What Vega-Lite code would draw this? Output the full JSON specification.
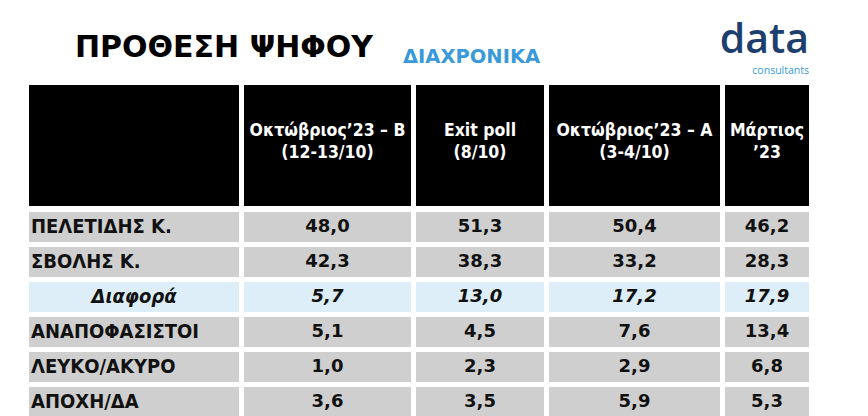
{
  "$schema": "https://vega.github.io/schema/vega-lite/v6.json",
  "background": "#ffffff",
  "padding": {"left": 29, "top": 19, "right": 0, "bottom": 0},
  "config": {
    "locale": {"number": {"decimal": ",", "thousands": ".", "grouping": [3], "currency": ["", " €"]}},
    "view": {"stroke": null},
    "concat": {"spacing": 5},
    "text": {"font": "DejaVu Sans Condensed", "fontWeight": "bold", "color": "#111111"}
  },
  "datasets": {
    "header": [
      {"poll": "label", "label": ""},
      {"poll": "B", "label": "Οκτώβριος’23 – Β\n(12-13/10)"},
      {"poll": "EXIT", "label": "Exit poll\n(8/10)"},
      {"poll": "A", "label": "Οκτώβριος’23 – Α\n(3-4/10)"},
      {"poll": "MAR", "label": "Μάρτιος\n’23"}
    ],
    "cells": [
      {"row": "ΠΕΛΕΤΙΔΗΣ Κ.", "poll": "B", "value": 48.0},
      {"row": "ΠΕΛΕΤΙΔΗΣ Κ.", "poll": "EXIT", "value": 51.3},
      {"row": "ΠΕΛΕΤΙΔΗΣ Κ.", "poll": "A", "value": 50.4},
      {"row": "ΠΕΛΕΤΙΔΗΣ Κ.", "poll": "MAR", "value": 46.2},
      {"row": "ΣΒΟΛΗΣ Κ.", "poll": "B", "value": 42.3},
      {"row": "ΣΒΟΛΗΣ Κ.", "poll": "EXIT", "value": 38.3},
      {"row": "ΣΒΟΛΗΣ Κ.", "poll": "A", "value": 33.2},
      {"row": "ΣΒΟΛΗΣ Κ.", "poll": "MAR", "value": 28.3},
      {"row": "Διαφορά", "poll": "B", "value": 5.7},
      {"row": "Διαφορά", "poll": "EXIT", "value": 13.0},
      {"row": "Διαφορά", "poll": "A", "value": 17.2},
      {"row": "Διαφορά", "poll": "MAR", "value": 17.9},
      {"row": "ΑΝΑΠΟΦΑΣΙΣΤΟΙ", "poll": "B", "value": 5.1},
      {"row": "ΑΝΑΠΟΦΑΣΙΣΤΟΙ", "poll": "EXIT", "value": 4.5},
      {"row": "ΑΝΑΠΟΦΑΣΙΣΤΟΙ", "poll": "A", "value": 7.6},
      {"row": "ΑΝΑΠΟΦΑΣΙΣΤΟΙ", "poll": "MAR", "value": 13.4},
      {"row": "ΛΕΥΚΟ/ΑΚΥΡΟ", "poll": "B", "value": 1.0},
      {"row": "ΛΕΥΚΟ/ΑΚΥΡΟ", "poll": "EXIT", "value": 2.3},
      {"row": "ΛΕΥΚΟ/ΑΚΥΡΟ", "poll": "A", "value": 2.9},
      {"row": "ΛΕΥΚΟ/ΑΚΥΡΟ", "poll": "MAR", "value": 6.8},
      {"row": "ΑΠΟΧΗ/ΔΑ", "poll": "B", "value": 3.6},
      {"row": "ΑΠΟΧΗ/ΔΑ", "poll": "EXIT", "value": 3.5},
      {"row": "ΑΠΟΧΗ/ΔΑ", "poll": "A", "value": 5.9},
      {"row": "ΑΠΟΧΗ/ΔΑ", "poll": "MAR", "value": 5.3}
    ]
  },
  "spacing": 6,
  "vconcat": [
    {
      "bounds": "flush",
      "hconcat": [
        {
          "width": 210, "height": 121,
          "view": {"fill": "#000000", "stroke": null},
          "title": {"text": "ΠΡΟΘΕΣΗ ΨΗΦΟΥ", "anchor": "start", "dx": 46, "offset": 22, "font": "DejaVu Sans", "fontWeight": "bold", "fontSize": 30, "color": "#000000"},
          "data": {"name": "header"},
          "transform": [{"filter": "datum.poll === 'label'"}],
          "mark": {"type": "text", "color": "#ffffff", "fontSize": 17.5, "lineBreak": "\n", "lineHeight": 22},
          "encoding": {"text": {"field": "label", "type": "nominal"}}
        },
        {
          "width": 167, "height": 121,
          "view": {"fill": "#000000", "stroke": null},
          "data": {"name": "header"},
          "transform": [{"filter": "datum.poll === 'B'"}],
          "mark": {"type": "text", "color": "#ffffff", "fontSize": 17.5, "lineBreak": "\n", "lineHeight": 22, "dy": -15},
          "encoding": {"text": {"field": "label", "type": "nominal"}}
        },
        {
          "width": 128, "height": 121,
          "view": {"fill": "#000000", "stroke": null},
          "title": {"text": "ΔΙΑΧΡΟΝΙΚΑ", "anchor": "start", "dx": -13, "offset": 18, "font": "DejaVu Sans", "fontWeight": "bold", "fontSize": 19.5, "color": "#3a9ad9"},
          "data": {"name": "header"},
          "transform": [{"filter": "datum.poll === 'EXIT'"}],
          "mark": {"type": "text", "color": "#ffffff", "fontSize": 17.5, "lineBreak": "\n", "lineHeight": 22, "dy": -15},
          "encoding": {"text": {"field": "label", "type": "nominal"}}
        },
        {
          "width": 171, "height": 121,
          "view": {"fill": "#000000", "stroke": null},
          "data": {"name": "header"},
          "transform": [{"filter": "datum.poll === 'A'"}],
          "mark": {"type": "text", "color": "#ffffff", "fontSize": 17.5, "lineBreak": "\n", "lineHeight": 22, "dy": -15},
          "encoding": {"text": {"field": "label", "type": "nominal"}}
        },
        {
          "width": 84, "height": 121,
          "view": {"fill": "#000000", "stroke": null},
          "title": {"text": "data", "subtitle": "consultants", "anchor": "end", "offset": 8, "font": "Open Sans", "fontWeight": 600, "fontSize": 41, "color": "#1d3f6e", "subtitleFont": "Open Sans", "subtitleFontSize": 10.5, "subtitleColor": "#3a9ad9", "subtitlePadding": 4},
          "data": {"name": "header"},
          "transform": [{"filter": "datum.poll === 'MAR'"}],
          "mark": {"type": "text", "color": "#ffffff", "fontSize": 17.5, "lineBreak": "\n", "lineHeight": 22, "dy": -15},
          "encoding": {"text": {"field": "label", "type": "nominal"}}
        }
      ]
    },
    {
      "hconcat": [
        {
          "width": 210, "height": 205,
          "data": {"name": "cells"},
          "transform": [{"filter": "datum.poll === 'B'"}],
          "encoding": {
            "y": {"field": "row", "type": "nominal", "axis": null, "scale": {"domain": ["ΠΕΛΕΤΙΔΗΣ Κ.", "ΣΒΟΛΗΣ Κ.", "Διαφορά", "ΑΝΑΠΟΦΑΣΙΣΤΟΙ", "ΛΕΥΚΟ/ΑΚΥΡΟ", "ΑΠΟΧΗ/ΔΑ"], "paddingInner": 0.143, "paddingOuter": 0}}
          },
          "layer": [
            {"mark": "rect", "encoding": {"color": {"condition": {"test": "datum.row === 'Διαφορά'", "value": "#ddeef8"}, "value": "#cfcfcf"}}},
            {
              "transform": [{"filter": "datum.row !== 'Διαφορά'"}],
              "mark": {"type": "text", "align": "left", "dx": 2, "fontSize": 20},
              "encoding": {"x": {"value": 0}, "text": {"field": "row", "type": "nominal"}}
            },
            {
              "transform": [{"filter": "datum.row === 'Διαφορά'"}],
              "mark": {"type": "text", "fontStyle": "italic", "fontSize": 20},
              "encoding": {"text": {"field": "row", "type": "nominal"}}
            }
          ]
        },
        {
          "width": 167, "height": 205,
          "data": {"name": "cells"},
          "transform": [{"filter": "datum.poll === 'B'"}],
          "encoding": {
            "y": {"field": "row", "type": "nominal", "axis": null, "scale": {"domain": ["ΠΕΛΕΤΙΔΗΣ Κ.", "ΣΒΟΛΗΣ Κ.", "Διαφορά", "ΑΝΑΠΟΦΑΣΙΣΤΟΙ", "ΛΕΥΚΟ/ΑΚΥΡΟ", "ΑΠΟΧΗ/ΔΑ"], "paddingInner": 0.143, "paddingOuter": 0}}
          },
          "layer": [
            {"mark": "rect", "encoding": {"color": {"condition": {"test": "datum.row === 'Διαφορά'", "value": "#ddeef8"}, "value": "#cfcfcf"}}},
            {
              "transform": [{"filter": "datum.row !== 'Διαφορά'"}],
              "mark": {"type": "text", "font": "DejaVu Sans", "fontSize": 18},
              "encoding": {"text": {"field": "value", "type": "quantitative", "format": ".1f"}}
            },
            {
              "transform": [{"filter": "datum.row === 'Διαφορά'"}],
              "mark": {"type": "text", "font": "DejaVu Sans", "fontStyle": "italic", "fontSize": 18},
              "encoding": {"text": {"field": "value", "type": "quantitative", "format": ".1f"}}
            }
          ]
        },
        {
          "width": 128, "height": 205,
          "data": {"name": "cells"},
          "transform": [{"filter": "datum.poll === 'EXIT'"}],
          "encoding": {
            "y": {"field": "row", "type": "nominal", "axis": null, "scale": {"domain": ["ΠΕΛΕΤΙΔΗΣ Κ.", "ΣΒΟΛΗΣ Κ.", "Διαφορά", "ΑΝΑΠΟΦΑΣΙΣΤΟΙ", "ΛΕΥΚΟ/ΑΚΥΡΟ", "ΑΠΟΧΗ/ΔΑ"], "paddingInner": 0.143, "paddingOuter": 0}}
          },
          "layer": [
            {"mark": "rect", "encoding": {"color": {"condition": {"test": "datum.row === 'Διαφορά'", "value": "#ddeef8"}, "value": "#cfcfcf"}}},
            {
              "transform": [{"filter": "datum.row !== 'Διαφορά'"}],
              "mark": {"type": "text", "font": "DejaVu Sans", "fontSize": 18},
              "encoding": {"text": {"field": "value", "type": "quantitative", "format": ".1f"}}
            },
            {
              "transform": [{"filter": "datum.row === 'Διαφορά'"}],
              "mark": {"type": "text", "font": "DejaVu Sans", "fontStyle": "italic", "fontSize": 18},
              "encoding": {"text": {"field": "value", "type": "quantitative", "format": ".1f"}}
            }
          ]
        },
        {
          "width": 171, "height": 205,
          "data": {"name": "cells"},
          "transform": [{"filter": "datum.poll === 'A'"}],
          "encoding": {
            "y": {"field": "row", "type": "nominal", "axis": null, "scale": {"domain": ["ΠΕΛΕΤΙΔΗΣ Κ.", "ΣΒΟΛΗΣ Κ.", "Διαφορά", "ΑΝΑΠΟΦΑΣΙΣΤΟΙ", "ΛΕΥΚΟ/ΑΚΥΡΟ", "ΑΠΟΧΗ/ΔΑ"], "paddingInner": 0.143, "paddingOuter": 0}}
          },
          "layer": [
            {"mark": "rect", "encoding": {"color": {"condition": {"test": "datum.row === 'Διαφορά'", "value": "#ddeef8"}, "value": "#cfcfcf"}}},
            {
              "transform": [{"filter": "datum.row !== 'Διαφορά'"}],
              "mark": {"type": "text", "font": "DejaVu Sans", "fontSize": 18},
              "encoding": {"text": {"field": "value", "type": "quantitative", "format": ".1f"}}
            },
            {
              "transform": [{"filter": "datum.row === 'Διαφορά'"}],
              "mark": {"type": "text", "font": "DejaVu Sans", "fontStyle": "italic", "fontSize": 18},
              "encoding": {"text": {"field": "value", "type": "quantitative", "format": ".1f"}}
            }
          ]
        },
        {
          "width": 84, "height": 205,
          "data": {"name": "cells"},
          "transform": [{"filter": "datum.poll === 'MAR'"}],
          "encoding": {
            "y": {"field": "row", "type": "nominal", "axis": null, "scale": {"domain": ["ΠΕΛΕΤΙΔΗΣ Κ.", "ΣΒΟΛΗΣ Κ.", "Διαφορά", "ΑΝΑΠΟΦΑΣΙΣΤΟΙ", "ΛΕΥΚΟ/ΑΚΥΡΟ", "ΑΠΟΧΗ/ΔΑ"], "paddingInner": 0.143, "paddingOuter": 0}}
          },
          "layer": [
            {"mark": "rect", "encoding": {"color": {"condition": {"test": "datum.row === 'Διαφορά'", "value": "#ddeef8"}, "value": "#cfcfcf"}}},
            {
              "transform": [{"filter": "datum.row !== 'Διαφορά'"}],
              "mark": {"type": "text", "font": "DejaVu Sans", "fontSize": 18},
              "encoding": {"text": {"field": "value", "type": "quantitative", "format": ".1f"}}
            },
            {
              "transform": [{"filter": "datum.row === 'Διαφορά'"}],
              "mark": {"type": "text", "font": "DejaVu Sans", "fontStyle": "italic", "fontSize": 18},
              "encoding": {"text": {"field": "value", "type": "quantitative", "format": ".1f"}}
            }
          ]
        }
      ]
    }
  ]
}
